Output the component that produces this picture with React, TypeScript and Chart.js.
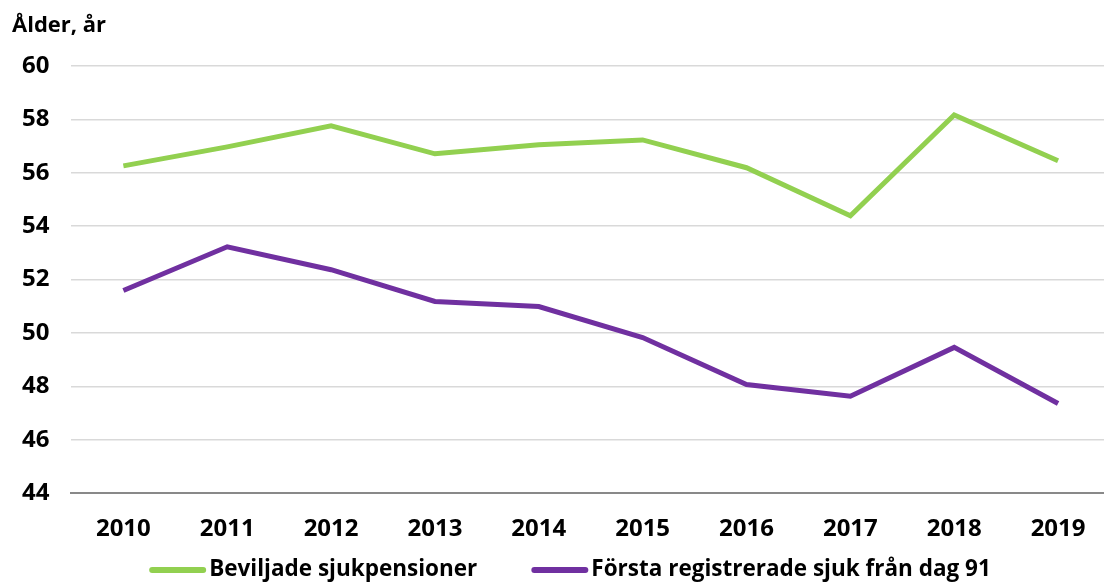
import React, { useEffect, useRef } from "react";
import { Chart, registerables } from "chart.js";

Chart.register(...registerables);

const years = ["2010", "2011", "2012", "2013", "2014", "2015", "2016", "2017", "2018", "2019"];
const beviljade = [56.26, 56.97, 57.76, 56.71, 57.05, 57.23, 56.19, 54.39, 58.17, 56.45];
const forsta = [51.59, 53.23, 52.37, 51.18, 50.99, 49.83, 48.07, 47.63, 49.46, 47.36];
const seriesNames = ["Beviljade sjukpensioner", "Första registrerade sjuk från dag 91"];
const yTitle = "Ålder, år";

const FONT = "'Open Sans', Lato, sans-serif";
const LEGEND_FONT = `bold 22.5px ${FONT}`;
const TITLE_FONT = `bold 22px ${FONT}`;

const extras = {
  id: "extras",
  afterDraw(chart: any) {
    const ctx = chart.ctx;
    const ds = chart.data.datasets;
    ctx.save();
    // axis title
    ctx.font = TITLE_FONT;
    ctx.fillStyle = "#000";
    ctx.textAlign = "left";
    ctx.textBaseline = "middle";
    ctx.fillText(yTitle, 12, 26);
    // legend
    ctx.font = LEGEND_FONT;
    const boxW = 57;
    const textGap = 3;
    const itemGap = 54;
    const widths = ds.map((d: any) => boxW + textGap + ctx.measureText(d.label).width);
    const total = widths.reduce((a: number, b: number) => a + b, 0) + itemGap * (ds.length - 1);
    let x = chart.width / 2 + 15 - total / 2;
    const y = 570;
    ds.forEach((d: any, i: number) => {
      ctx.strokeStyle = d.borderColor;
      ctx.lineWidth = 6;
      ctx.lineCap = "round";
      ctx.beginPath();
      ctx.moveTo(x + 3, y);
      ctx.lineTo(x + boxW - 3, y);
      ctx.stroke();
      ctx.fillStyle = "#000";
      ctx.textAlign = "left";
      ctx.textBaseline = "middle";
      ctx.fillText(d.label, x + boxW + textGap, y);
      x += widths[i] + itemGap;
    });
    ctx.restore();
  },
};

export default function App() {
  const ref = useRef<HTMLCanvasElement>(null);
  useEffect(() => {
    document.body.style.margin = "0";
    const chart = new Chart(ref.current!, {
      type: "line",
      data: {
        labels: years,
        datasets: [
          {
            label: seriesNames[0],
            data: beviljade,
            borderColor: "#92d050",
            backgroundColor: "#92d050",
            borderWidth: 5,
            pointRadius: 0,
            tension: 0,
          },
          {
            label: seriesNames[1],
            data: forsta,
            borderColor: "#7030a0",
            backgroundColor: "#7030a0",
            borderWidth: 5,
            pointRadius: 0,
            tension: 0,
          },
        ],
      },
      plugins: [extras],
      options: {
        responsive: false,
        animation: false,
        layout: { padding: { left: 0, right: 0, top: 66, bottom: 25 } },
        plugins: {
          title: { display: false },
          legend: { display: false },
          tooltip: { enabled: false },
        },
        scales: {
          x: {
            offset: true,
            grid: { display: false },
            border: { display: true, color: "#898989", width: 2 },
            ticks: {
              color: "#000",
              font: { family: FONT, size: 24, weight: "bold" },
              padding: 14,
              maxRotation: 0,
            },
          },
          y: {
            min: 44,
            max: 60,
            ticks: {
              stepSize: 2,
              color: "#000",
              font: { family: FONT, size: 24, weight: "bold" },
              padding: 22,
            },
            grid: {
              color: (ctx: any) => (ctx.tick && ctx.tick.value === 44 ? "rgba(0,0,0,0)" : "#d9d9d9"),
              lineWidth: 1.5,
              drawTicks: false,
            },
            border: { display: false },
          },
        },
      },
    });
    return () => chart.destroy();
  }, []);
  return (
    <div style={{ width: 1104, height: 583, overflow: "hidden" }}>
      <canvas ref={ref} width={1110} height={583} style={{ display: "block" }} />
    </div>
  );
}
